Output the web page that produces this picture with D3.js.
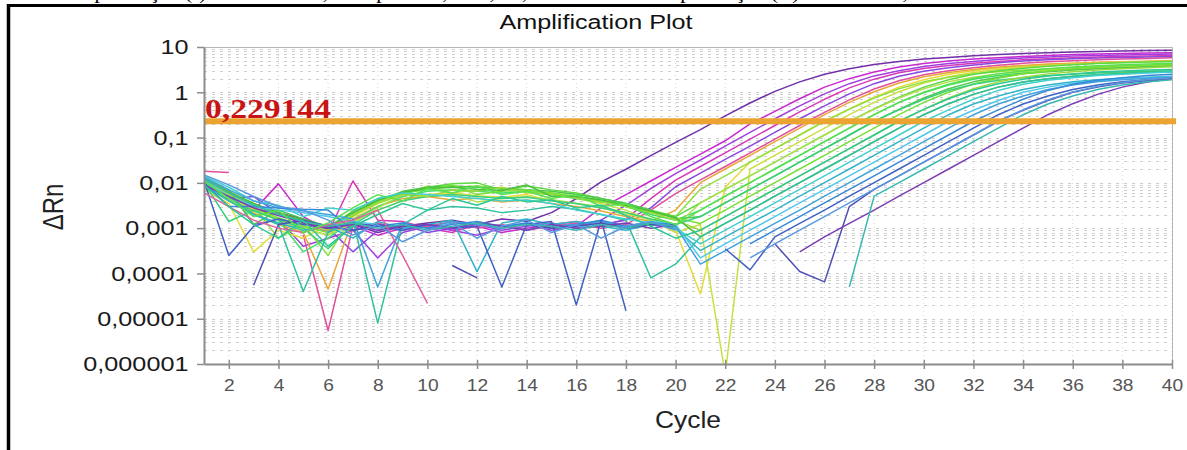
<!DOCTYPE html>
<html>
<head>
<meta charset="utf-8">
<script src="https://cdn.jsdelivr.net/npm/d3@7"></script>
<style>
  body { margin: 0; background: #fff; }
</style>
</head>
<body>
<svg id="chart" width="1187" height="450"></svg>
<script>
// axis ticks
const yTicks = [10, 1, 0.1, 0.01, 0.001, 0.0001, 0.00001, 0.000001];
const yTickLabels = ["10", "1", "0,1", "0,01", "0,001", "0,0001", "0,00001", "0,000001"];
const xTicks = [2, 4, 6, 8, 10, 12, 14, 16, 18, 20, 22, 24, 26, 28, 30, 32, 34, 36, 38, 40];
const threshold = 0.229144;
const thresholdLabel = "0,229144";

// ΔRn per well, index 0 = cycle 1 (null = no value)
const wellA1 = [1.1e-2,6e-3,2.5e-3,2.2e-3,1.6e-3,9e-4,1.2e-3,8e-4,1.1e-3,1.3e-3,1.5e-3,1.2e-3,1.6e-3,1.4e-3,2.2e-3,4.5e-3,1.05e-2,2e-2,4e-2,7.8e-2,0.15,0.3,0.58,1.05,1.7,2.5,3.3,4.1,4.8,5.4,5.9,6.4,6.8,7.2,7.5,7.8,8.0,8.2,8.4,8.5];
const wellA2 = [9e-3,4e-3,2.5e-3,9.5e-3,1.8e-3,9e-4,1.1e-3,7e-4,1e-3,1.2e-3,9e-4,1.1e-3,8e-4,1e-3,1.2e-3,1.1e-3,2.8e-3,5.5e-3,1.1e-2,2.2e-2,4.3e-2,8.5e-2,0.2,0.38,0.72,1.3,2.0,2.8,3.6,4.3,4.9,5.4,5.8,6.2,6.5,6.8,7.0,7.2,7.35,7.5];
const wellA3 = [1.3e-2,7e-3,1.2e-3,1.6e-3,4e-4,6e-4,9e-4,2.2e-4,8e-4,1.1e-3,9e-4,7e-4,1e-3,1.2e-3,9e-4,1.1e-3,1.5e-3,3.2e-3,7.5e-3,1.6e-2,3.2e-2,6.5e-2,0.13,0.26,0.5,0.92,1.55,2.3,3.0,3.7,4.3,4.8,5.3,5.7,6.0,6.3,6.5,6.7,6.85,7.0];
const wellA4 = [1.2e-2,5e-3,2.8e-3,2e-3,1.3e-3,8e-4,1.1e-2,1.5e-3,1.4e-3,1e-3,8e-4,1.3e-3,1.1e-3,9e-4,1.2e-3,1.4e-3,1.1e-3,1.6e-3,4.5e-3,1.15e-2,2.3e-2,4.6e-2,9.2e-2,0.185,0.37,0.7,1.25,1.95,2.7,3.35,3.9,4.4,4.8,5.2,5.5,5.8,6.0,6.2,6.35,6.5];
const wellA5 = [8e-3,4.5e-3,5e-3,2.1e-3,1.4e-3,1e-3,3e-4,9e-4,1.2e-3,8e-4,1e-3,1.2e-3,9e-4,1.1e-3,1.3e-3,1e-3,1.2e-3,1.5e-3,2.8e-3,8.2e-3,1.64e-2,3.3e-2,6.5e-2,0.13,0.26,0.5,0.92,1.55,2.25,2.9,3.5,4.0,4.5,4.9,5.2,5.5,5.7,5.9,6.05,6.2];
const wellA6 = [1.8e-2,1.7e-2,null,null,7e-4,5.5e-6,1.1e-3,1.3e-3,9e-4,1.1e-3,1.4e-3,1e-3,1.2e-3,9e-4,1.1e-3,1.3e-3,1e-3,1.2e-3,2.5e-3,5.8e-3,1.16e-2,2.3e-2,4.6e-2,9.2e-2,0.185,0.36,0.68,1.18,1.8,2.45,3.0,3.5,3.95,4.35,4.7,5.0,5.25,5.45,5.6,5.8];
const wellB1 = [7e-3,3.5e-3,3e-4,9e-4,6e-4,1.2e-3,1.4e-3,2.5e-3,4e-3,5.5e-3,6e-3,5.2e-3,4.8e-3,5.5e-3,4e-3,3.5e-3,2.8e-3,2e-3,1.6e-3,9e-4,3.5e-5,8e-3,2.86e-2,5.7e-2,0.114,0.229,0.43,0.78,1.3,1.9,2.5,3.0,3.4,3.75,4.05,4.3,4.5,4.65,4.8,4.9];
const wellB2 = [1e-2,5e-3,2.2e-3,1.2e-3,8e-4,4.5e-5,1.6e-3,3e-3,4.5e-3,5e-3,4.2e-3,4.6e-3,3.8e-3,4.2e-3,3.5e-3,3e-3,2.4e-3,1.8e-3,1.4e-3,2.5e-3,1.01e-2,2.02e-2,4.05e-2,8.1e-2,0.162,0.32,0.6,1.03,1.6,2.2,2.75,3.2,3.6,3.9,4.2,4.4,4.58,4.72,4.85,4.95];
const wellB3 = [9e-3,4.5e-3,2.6e-3,1.6e-3,1e-3,7e-4,1.8e-3,3.5e-3,5.5e-3,8.5e-3,6e-3,7e-3,8e-3,6e-3,5.5e-3,4.5e-3,3.5e-3,2.5e-3,1.5e-3,8e-4,1.2e-3,6e-7,2.02e-2,4.05e-2,8.1e-2,0.162,0.32,0.6,1.03,1.6,2.2,2.75,3.2,3.6,3.9,4.2,4.4,4.58,4.72,4.85];
const wellB4 = [1.1e-2,5.5e-3,3e-3,6e-4,1.2e-3,2.5e-4,2e-3,4e-3,6e-3,7.5e-3,8e-3,8.5e-3,7.5e-3,7e-3,6e-3,5e-3,4e-3,3e-3,2.2e-3,1.8e-3,7.2e-3,1.43e-2,2.86e-2,5.7e-2,0.114,0.229,0.42,0.75,1.2,1.7,2.15,2.55,2.85,3.1,3.3,3.5,3.65,3.8,3.9,4.0];
const wellB5 = [1.2e-2,6e-3,3.5e-3,2e-3,1.4e-3,1e-3,2.4e-3,4.5e-3,5.5e-3,8e-3,9.5e-3,1e-2,7e-3,8.5e-3,7e-3,6e-3,4.5e-3,3.5e-3,2.5e-3,1.8e-3,3.6e-3,7.2e-3,1.43e-2,2.86e-2,5.7e-2,0.114,0.229,0.43,0.78,1.3,1.9,2.5,3.0,3.4,3.75,4.05,4.3,4.5,4.65,4.8];
const wellB6 = [1e-2,4e-3,2.4e-3,1.5e-3,3e-4,6e-4,1.5e-3,3e-3,5e-3,6.5e-3,7e-3,6.5e-3,6e-3,6.5e-3,5.5e-3,4.5e-3,3.8e-3,3e-3,2e-3,1.5e-3,2.5e-3,5.1e-3,1.01e-2,2.02e-2,4.05e-2,8.1e-2,0.162,0.32,0.6,0.97,1.45,1.93,2.35,2.7,3.0,3.2,3.4,3.58,3.72,3.85];
const wellB7 = [8e-3,4e-3,2e-3,1.3e-3,1e-3,7e-4,1.3e-3,2.8e-3,5.5e-3,5e-3,5.5e-3,3.8e-3,4.5e-3,5e-3,4.3e-3,3.5e-3,3e-3,2.2e-3,1.5e-3,1.1e-3,3.6e-3,7.2e-3,1.43e-2,2.86e-2,5.7e-2,0.114,0.229,0.42,0.75,1.2,1.7,2.15,2.55,2.85,3.1,3.3,3.5,3.65,3.8,3.9];
const wellB8 = [1.3e-2,7e-3,1.2e-3,2.5e-3,1.6e-3,1.1e-3,2.2e-3,4e-3,6.5e-3,8e-3,8.5e-3,8e-3,7.5e-3,7e-3,6.5e-3,5.5e-3,4.5e-3,3.5e-3,2.5e-3,1.6e-3,1.8e-3,3.6e-3,7.2e-3,1.43e-2,2.86e-2,5.7e-2,0.114,0.229,0.42,0.75,1.2,1.7,2.15,2.55,2.85,3.1,3.3,3.5,3.65,3.8];
const wellB9 = [9e-3,5e-3,2.8e-3,1.7e-3,1.1e-3,8e-4,1.9e-3,3.8e-3,6e-3,7e-3,9e-3,5.5e-3,6.5e-3,7e-3,6e-3,5e-3,4e-3,3.2e-3,2.4e-3,1.7e-3,1.27e-3,2.5e-3,5.1e-3,1.01e-2,2.02e-2,4.05e-2,8.1e-2,0.162,0.32,0.6,1.0,1.52,2.05,2.55,2.95,3.3,3.55,3.8,4.0,4.15];
const wellB10 = [1e-2,1.4e-3,2.5e-3,1.5e-3,1e-3,3.5e-4,1.2e-3,2.5e-3,4e-3,5e-3,5.5e-3,5e-3,4.5e-3,4.8e-3,4e-3,3.5e-3,2.8e-3,2.2e-3,1.6e-3,1.2e-3,1.8e-3,3.6e-3,7.2e-3,1.43e-2,2.86e-2,5.7e-2,0.114,0.229,0.41,0.7,1.1,1.5,1.85,2.1,2.35,2.5,2.65,2.8,2.9,3.0];
const wellB11 = [1.1e-2,6e-3,3.2e-3,2e-3,1.3e-3,9e-4,2e-3,3.6e-3,5.5e-3,5e-3,7e-3,6.5e-3,7.8e-3,6.3e-3,5.5e-3,4.6e-3,3.8e-3,3e-3,2.2e-3,1.5e-3,9e-4,1.8e-3,3.6e-3,7.2e-3,1.43e-2,2.86e-2,5.7e-2,0.114,0.229,0.42,0.75,1.2,1.7,2.15,2.55,2.85,3.1,3.3,3.5,3.65];
const wellB12 = [1.2e-2,6.5e-3,3.5e-3,2.2e-3,1.5e-3,1e-3,2.2e-3,4.2e-3,6.2e-3,7.5e-3,8e-3,7.2e-3,6.8e-3,9e-3,5e-3,5e-3,4.2e-3,3.2e-3,2.4e-3,1.7e-3,6.4e-4,1.27e-3,2.5e-3,5.1e-3,1.01e-2,2.02e-2,4.05e-2,8.1e-2,0.162,0.32,0.56,0.9,1.3,1.68,2.0,2.25,2.45,2.62,2.76,2.88];
const wellC1 = [1e-2,5e-3,2e-3,1.2e-3,4e-5,8e-4,1.5e-3,8e-6,1.2e-3,2.5e-3,3e-3,2.8e-3,2.2e-3,2.5e-3,3e-3,2.6e-3,2e-3,1.5e-3,8e-5,1.6e-4,6.4e-4,1.27e-3,2.5e-3,5.1e-3,1.01e-2,2.02e-2,4.05e-2,8.1e-2,0.162,0.32,0.56,0.9,1.3,1.68,2.0,2.22,2.43,2.58,2.72,2.85];
const wellC2 = [1.4e-2,8e-3,4e-3,3.2e-3,1.8e-3,2.8e-3,2.5e-3,4.5e-3,6e-3,5.5e-3,5e-3,4.5e-3,4e-3,4.2e-3,3.5e-3,2.5e-3,2e-3,1.6e-3,1.3e-3,1e-3,4.5e-4,9e-4,1.8e-3,3.6e-3,7.2e-3,1.43e-2,2.86e-2,5.7e-2,0.114,0.229,0.41,0.7,1.1,1.5,1.85,2.1,2.35,2.5,2.65,2.8];
const wellC3 = [9e-3,4e-3,2e-3,1.3e-3,9e-4,1.1e-3,6e-4,1.4e-3,1e-3,1.2e-3,1.5e-3,1.1e-4,1.3e-3,1.6e-3,1.2e-3,1.4e-3,1.1e-3,9e-4,1.2e-3,1e-3,3.2e-4,6.4e-4,1.27e-3,2.5e-3,5.1e-3,1.01e-2,2.02e-2,4.05e-2,8.1e-2,0.162,0.32,0.55,0.83,1.15,1.45,1.7,1.9,2.05,2.15,2.25];
const wellC4 = [1.1e-2,5e-3,3e-3,2.5e-3,2.2e-3,1.8e-3,1.4e-3,1.2e-3,9e-4,1.2e-3,1e-3,1.3e-3,1.1e-3,9e-4,1.2e-3,1e-3,1.3e-3,1.1e-3,1.4e-3,1.2e-3,2.2e-4,4.5e-4,9e-4,1.8e-3,3.6e-3,7.2e-3,1.43e-2,2.86e-2,5.7e-2,0.114,0.229,0.4,0.66,1.0,1.3,1.6,1.8,1.98,2.1,2.2];
const wellC5 = [1.3e-2,7e-3,4e-3,2.8e-3,2.4e-3,2e-3,1.6e-3,5e-5,1.3e-3,1e-3,1.4e-3,1.2e-3,1e-3,1.3e-3,1.1e-3,1.2e-3,1.4e-3,1e-3,1.2e-3,1.1e-3,1.6e-4,3.2e-4,6.4e-4,1.27e-3,2.5e-3,5.1e-3,1.01e-2,2.02e-2,4.05e-2,8.1e-2,0.162,0.32,0.55,0.83,1.15,1.45,1.7,1.9,2.05,2.15];
const wellD1 = [1e-2,3e-3,3e-3,2.8e-3,2.6e-3,2.5e-3,9e-4,1.1e-3,1.3e-3,1e-3,1.2e-3,1.4e-3,1.1e-3,1.3e-3,1e-3,1.2e-3,1.5e-3,1.1e-3,1.3e-3,1.2e-3,null,null,4.5e-4,9e-4,1.8e-3,3.6e-3,7.2e-3,1.43e-2,2.86e-2,5.7e-2,0.114,0.229,0.41,0.7,1.1,1.5,1.85,2.1,2.35,2.5];
const wellD2 = [1.1e-2,2.5e-4,1.1e-3,1.6e-3,1.2e-3,1e-3,1.3e-3,1.1e-3,9e-4,1.2e-3,1e-3,1.1e-3,5e-5,1.2e-3,1.4e-3,2e-5,1.5e-3,1.5e-5,null,null,null,3.5e-4,1.2e-4,6.4e-4,1.27e-3,2.5e-3,5.1e-3,1.01e-2,2.02e-2,4.05e-2,8.1e-2,0.162,0.32,0.55,0.83,1.15,1.45,1.7,1.9,2.05];
const wellD3 = [null,null,5.5e-5,1.2e-3,1.5e-3,1.1e-3,9e-4,1.2e-3,1e-3,null,1.5e-4,8e-5,null,1.2e-3,1e-3,1.1e-3,1.3e-3,1e-3,1.2e-3,1.1e-3,null,null,null,4.5e-4,1.1e-4,6.5e-5,3e-3,7.2e-3,1.43e-2,2.86e-2,5.7e-2,0.114,0.229,0.4,0.66,1.0,1.3,1.6,1.8,1.98];
const wellD4 = [9e-3,5e-3,2.8e-3,1.9e-3,1.3e-3,1e-3,1.2e-3,9e-4,1.1e-3,1.2e-3,1e-3,1.3e-3,1.1e-3,9e-4,1.2e-3,1e-3,1.1e-3,1.3e-3,1e-3,1.2e-3,null,null,null,null,3e-4,6.4e-4,1.27e-3,2.5e-3,5.1e-3,1.01e-2,2.02e-2,4.05e-2,8.1e-2,0.162,0.32,0.56,0.9,1.3,1.68,2.0];
const wellE1 = [1.2e-2,6e-3,3.2e-3,2e-3,1.4e-3,1.1e-3,1.3e-3,1e-3,1.2e-3,9e-4,1.1e-3,1.3e-3,1e-3,1.2e-3,1.1e-3,9e-4,1.2e-3,1e-3,1.3e-3,1.1e-3,null,null,null,null,null,null,5e-5,5.1e-3,1.01e-2,2.02e-2,4.05e-2,8.1e-2,0.162,0.32,0.55,0.83,1.15,1.45,1.7,1.9];
const wellF1 = [6e-3,3e-3,1.5e-3,1e-3,8e-4,1.2e-3,1.5e-3,2.5e-3,2.5e-4,2.2e-5];
const wellG1 = [1.1e-2,4.5e-3,1.8e-3,2.5e-3,8e-4,1.3e-3,2.8e-3,5.5e-3,4e-3,7.5e-3,6e-3,8.5e-3,5.5e-3,6.5e-3,4.5e-3,5.5e-3,3e-3,3.5e-3,1.8e-3,1.2e-3,2.5e-3,5.1e-3,1.01e-2,2.02e-2,4.05e-2,8.1e-2,0.162,0.32,0.6,1.0,1.5,2.05,2.55,2.95,3.3,3.6,3.85,4.05,4.2,4.35];
const wellG2 = [9e-3,3e-3,1.2e-3,6e-4,1.5e-3,4e-4,1.1e-3,2e-3,3.5e-3,2.5e-3,4.5e-3,3.2e-3,5e-3,3.8e-3,4.2e-3,2.8e-3,3.2e-3,1.9e-3,1.1e-3,6e-4,9e-4,1.8e-3,3.6e-3,7.2e-3,1.43e-2,2.86e-2,5.7e-2,0.114,0.229,0.42,0.72,1.12,1.55,1.95,2.3,2.55,2.8,2.95,3.1,3.2];
const wellG3 = [1.5e-2,9e-3,5e-3,3e-3,2.5e-3,1.5e-3,7e-4,1.2e-3,5e-4,9e-4,1.3e-3,6e-4,1.1e-3,1.5e-3,8e-4,1.2e-3,6e-4,1.1e-3,1.4e-3,9e-4,null,null,2.2e-4,4.5e-4,9e-4,1.8e-3,3.6e-3,7.2e-3,1.43e-2,2.86e-2,5.7e-2,0.114,0.229,0.41,0.68,1.02,1.35,1.65,1.9,2.1];

const wells = [wellA1, wellA2, wellA3, wellA4, wellA5, wellA6,
  wellB1, wellB2, wellB3, wellB4, wellB5, wellB6, wellB7, wellB8, wellB9, wellB10, wellB11, wellB12,
  wellC1, wellC2, wellC3, wellC4, wellC5, wellD1, wellD2, wellD3, wellD4, wellE1, wellF1,
  wellG1, wellG2, wellG3];
const wellColors = ["#7030a8", "#c828d0", "#a040e0", "#d838b8", "#8848e0", "#e0509c",
  "#e4dc38", "#e8a838", "#c8e040", "#90e040", "#5cd840", "#40e068", "#b0e050", "#4cc84c", "#78e034", "#38d07c", "#9cd83c", "#48c03c",
  "#30c0a0", "#40d0d0", "#30b4c8", "#50c8ec", "#40a4dc", "#3888d8", "#4060c4", "#5050b4", "#7c3cb4", "#38b8b0", "#e060a0",
  "#58e050", "#2cc894", "#5898e0"];

const svg = d3.select("#chart");
const font = "'Liberation Sans', Arial, sans-serif";

const plotL = 204, plotR = 1172, plotT = 47, plotB = 364;
const x = d3.scaleLinear().domain([1, 40]).range([plotL, plotR]);
const y = d3.scaleLog().domain([1e-6, 10]).range([plotB, plotT]);

// text that looks horizontally stretched like the original image
function stretchedText(parent, tx, ty, str, sx) {
  return parent.append("text")
    .attr("transform", `translate(${tx},${ty}) scale(${sx || 1.2},1)`)
    .attr("font-family", font)
    .text(str);
}

// caption of the page above, cut off by the frame
stretchedText(svg, 62, -1, "Amplificação (I) das amostras, com primers, e 10, 20, 40 e curva de amplificação (II) do controle, e")
  .attr("font-family", "'Liberation Serif', 'Times New Roman', serif")
  .attr("font-size", 18)
  .attr("fill", "#000");

// grid
const grid = svg.append("g");
const minorVals = [];
for (let e = -6; e <= 0; e++) {
  for (let k = 1; k <= 9; k++) minorVals.push(k * Math.pow(10, e));
}
minorVals.push(10);
grid.selectAll("line.h")
  .data(minorVals)
  .enter().append("line")
    .attr("class", "h")
    .attr("x1", plotL).attr("x2", plotR)
    .attr("y1", d => Math.round(y(d)) + 0.5).attr("y2", d => Math.round(y(d)) + 0.5)
    .attr("stroke", "#cdcdcd")
    .attr("stroke-dasharray", "3,5");
grid.selectAll("line.v")
  .data(xTicks)
  .enter().append("line")
    .attr("class", "v")
    .attr("x1", d => x(d)).attr("x2", d => x(d))
    .attr("y1", plotT).attr("y2", plotB)
    .attr("stroke", "#d6d6d6")
    .attr("stroke-dasharray", "1,3");

// plot frame (top/right)
svg.append("path")
  .attr("d", `M${plotL},${plotT + 0.5}H${plotR + 0.5}V${plotB}`)
  .attr("fill", "none")
  .attr("stroke", "#b5b5b5");

svg.append("clipPath").attr("id", "plotClip")
  .append("rect")
    .attr("x", plotL).attr("y", plotT)
    .attr("width", plotR - plotL).attr("height", plotB - plotT);

const line = d3.line()
  .defined(d => d.v != null)
  .x(d => x(d.c))
  .y(d => y(d.v));

svg.append("g")
  .attr("clip-path", "url(#plotClip)")
  .selectAll("path")
  .data(wells)
  .enter().append("path")
    .attr("d", w => line(w.map((v, i) => ({c: i + 1, v}))))
    .attr("fill", "none")
    .attr("stroke", (w, i) => wellColors[i])
    .attr("stroke-width", 1.5)
    .attr("stroke-linejoin", "round");

// threshold
svg.append("line")
  .attr("x1", plotL).attr("x2", plotR + 4)
  .attr("y1", y(threshold)).attr("y2", y(threshold))
  .attr("stroke", "#eba432")
  .attr("stroke-width", 6);

stretchedText(svg, 205, 118, thresholdLabel, 1.2)
  .attr("font-family", "'Liberation Serif', 'Times New Roman', serif")
  .attr("font-weight", "bold")
  .attr("font-size", 28)
  .attr("fill", "#c81414");

// axes
const gY = svg.append("g")
  .attr("transform", `translate(${plotL},0)`)
  .call(d3.axisLeft(y)
    .tickValues(yTicks)
    .tickFormat((d, i) => yTickLabels[i])
    .tickSize(7).tickSizeOuter(0).tickPadding(6));
gY.select(".domain").attr("stroke", "#8c8c8c").attr("stroke-width", 2);
gY.selectAll(".tick line").attr("stroke", "#8c8c8c").attr("stroke-width", 1.5);
gY.selectAll(".tick text")
  .attr("font-family", font)
  .attr("font-size", 21)
  .attr("fill", "#1a1a1a")
  .attr("transform", "scale(1.2,1)");

const gX = svg.append("g")
  .attr("transform", `translate(0,${plotB})`)
  .call(d3.axisBottom(x)
    .tickValues(xTicks)
    .tickSize(5).tickSizeOuter(0).tickPadding(11));
gX.select(".domain").attr("stroke", "#8c8c8c").attr("stroke-width", 2);
gX.selectAll(".tick line").attr("y1", -4).attr("stroke", "#8c8c8c").attr("stroke-width", 1.5);
gX.selectAll(".tick text")
  .attr("font-family", font)
  .attr("font-size", 16)
  .attr("fill", "#555")
  .attr("transform", "scale(1.2,1)");

// titles
stretchedText(svg, 596, 29, "Amplification Plot", 1.2)
  .attr("text-anchor", "middle")
  .attr("font-size", 21)
  .attr("fill", "#111");

stretchedText(svg, 688, 428, "Cycle", 1.15)
  .attr("text-anchor", "middle")
  .attr("font-size", 23)
  .attr("fill", "#222");

svg.append("text")
  .attr("transform", "translate(63,207) scale(1.2,1) rotate(-90)")
  .attr("text-anchor", "middle")
  .attr("font-family", font)
  .attr("font-size", 24)
  .attr("fill", "#222")
  .text("ΔRn");

// page frame
svg.append("line")
  .attr("x1", 8.5).attr("x2", 8.5).attr("y1", 4).attr("y2", 450)
  .attr("stroke", "#000").attr("stroke-width", 3.5);
svg.append("line")
  .attr("x1", 7).attr("x2", 1187).attr("y1", 5.5).attr("y2", 5.5)
  .attr("stroke", "#000").attr("stroke-width", 3);
</script>
</body>
</html>
